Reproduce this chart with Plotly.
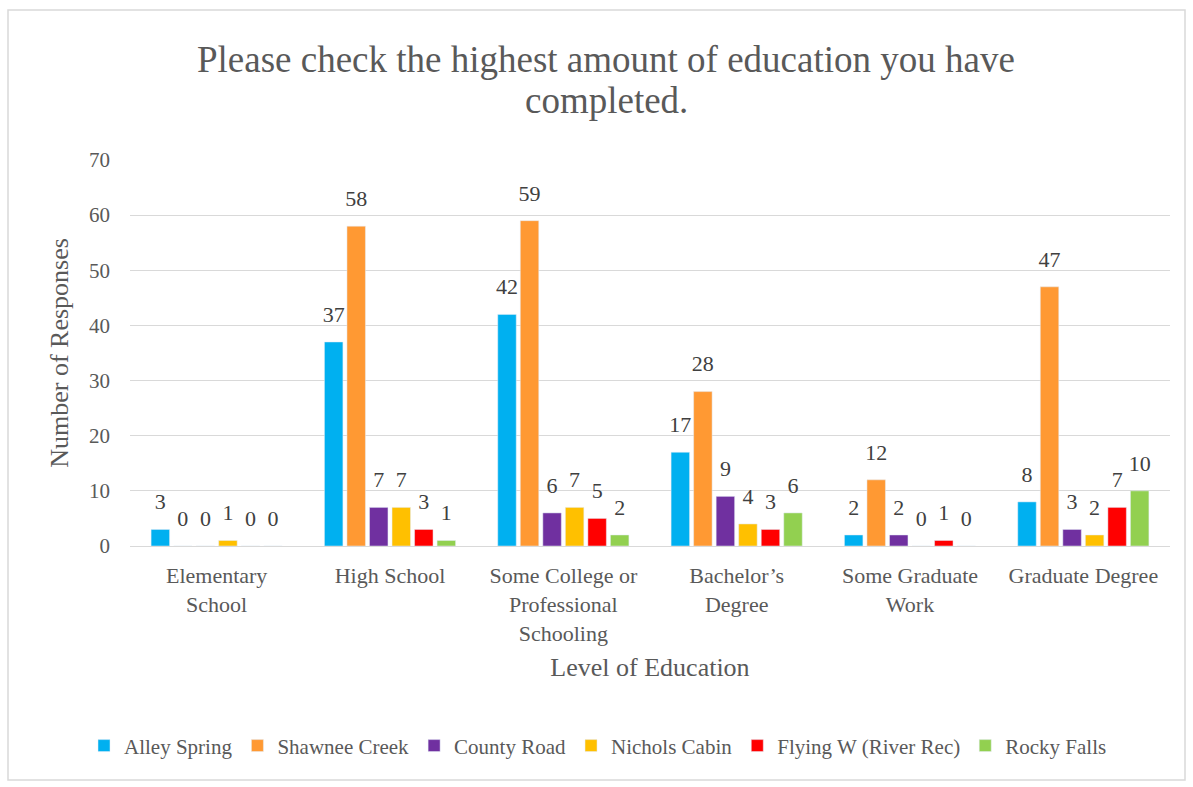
import plotly.graph_objects as go

categories = ["Elementary<br>School", "High School", "Some College or<br>Professional<br>Schooling",
              "Bachelor’s<br>Degree", "Some Graduate<br>Work", "Graduate Degree"]
series_names = ["Alley Spring", "Shawnee Creek", "County Road", "Nichols Cabin",
                "Flying W (River Rec)", "Rocky Falls"]
alley_spring = [3, 37, 42, 17, 2, 8]
shawnee_creek = [0, 58, 59, 28, 12, 47]
county_road = [0, 7, 6, 9, 2, 3]
nichols_cabin = [1, 7, 7, 4, 0, 2]
flying_w = [0, 3, 5, 3, 1, 7]
rocky_falls = [0, 1, 2, 6, 0, 10]
colors = ["#00b0f0", "#ff9933", "#7030a0", "#ffc000", "#ff0000", "#92d050"]
title_lines = ["Please check the highest amount of education you have", "completed."]

values = [alley_spring, shawnee_creek, county_road, nichols_cabin, flying_w, rocky_falls]
FONT = "Liberation Serif"
GREY = "#595959"
LABEL_GAP = 2.2  # spacing between bar top and its data label, in axis units

fig = go.Figure()
for i, (name, vals, col) in enumerate(zip(series_names, values, colors)):
    fig.add_trace(go.Bar(
        name=name, x=categories, y=vals, marker_color=col,
        offsetgroup=str(i), legendgroup=str(i),
    ))
for i, (name, vals, col) in enumerate(zip(series_names, values, colors)):
    # transparent spacer bar sitting on top of each bar, carrying the data label
    fig.add_trace(go.Bar(
        name=name, x=categories, y=[LABEL_GAP] * len(vals), base=vals,
        marker=dict(color="rgba(0,0,0,0)", line=dict(width=0)),
        offsetgroup=str(i), legendgroup=str(i), showlegend=False, hoverinfo="skip",
        text=vals, textposition="outside", cliponaxis=False, constraintext="none",
        textfont=dict(family=FONT, size=22, color="#404040"),
    ))

fig.update_layout(
    width=1193, height=787,
    paper_bgcolor="white", plot_bgcolor="white",
    font=dict(family=FONT, color=GREY),
    barmode="group", bargap=0.22, bargroupgap=0.18,
    margin=dict(l=130, r=23, t=160, b=241, autoexpand=False),
    legend=dict(orientation="h", x=0.45, xanchor="center", y=-0.518, yanchor="middle",
                font=dict(family=FONT, size=21, color=GREY),
                bgcolor="rgba(0,0,0,0)",
                traceorder="normal", itemwidth=30),
    showlegend=True,
)
for line, ypix in zip(title_lines, [60, 101]):
    fig.add_annotation(text=line, xref="paper", yref="paper",
                       x=(606 - 130) / 1040, y=(546 - ypix) / 386,
                       xanchor="center", yanchor="middle", showarrow=False,
                       font=dict(family=FONT, size=37, color=GREY))

fig.update_yaxes(range=[0, 70], dtick=10, showgrid=True, gridcolor="#d9d9d9", gridwidth=1,
                 zeroline=True, zerolinecolor="#d9d9d9", zerolinewidth=1,
                 tickfont=dict(family=FONT, size=21, color=GREY),
                 ticks="", ticklabelstandoff=19,
                 title=dict(text="Number of Responses", standoff=12,
                            font=dict(family=FONT, size=26, color=GREY)))
fig.update_xaxes(showline=True, linecolor="#d9d9d9", linewidth=1,
                 tickfont=dict(family=FONT, size=22, color=GREY),
                 ticks="", ticklabelstandoff=10,
                 title=dict(text="Level of Education", standoff=13,
                            font=dict(family=FONT, size=26, color=GREY)))

# Chart outer border
fig.add_shape(type="rect", xref="paper", yref="paper",
              x0=(8 - 130) / 1040, x1=(1185 - 130) / 1040,
              y0=(546 - 780) / 386, y1=(546 - 10) / 386,
              line=dict(color="#d9d9d9", width=1.5), fillcolor="rgba(0,0,0,0)", layer="below")

fig.write_html("out.html")
